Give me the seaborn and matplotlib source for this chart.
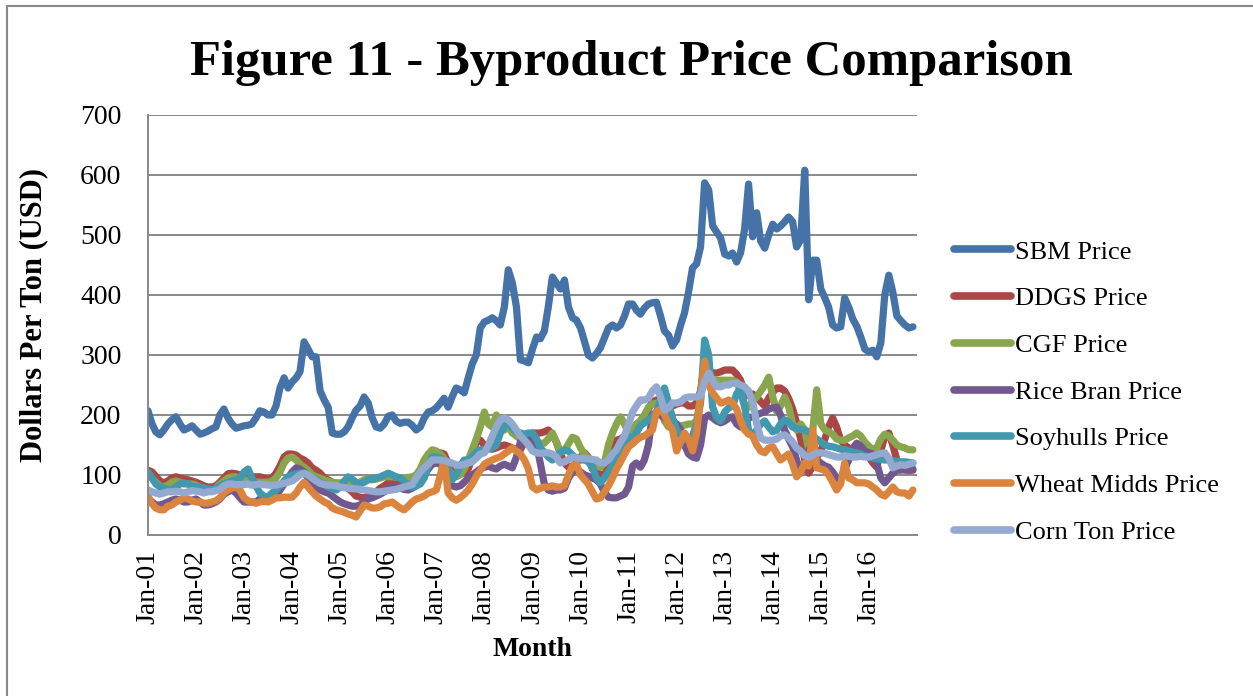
import matplotlib
matplotlib.use('Agg')
import matplotlib.pyplot as plt
from matplotlib.lines import Line2D
import pandas as pd
import seaborn as sns

# monthly prices, Jan-01 .. Dec-16 (one row per year)
sbm = [
    207, 185, 172, 167, 175, 185, 192, 197, 185, 175, 178, 182,
    175, 168, 170, 173, 177, 180, 200, 210, 195, 185, 178, 180,
    182, 183, 185, 195, 207, 205, 200, 200, 215, 245, 262, 245,
    255, 262, 272, 322, 310, 297, 297, 240, 225, 213, 170, 168,
    168, 172, 180, 195, 208, 215, 230, 220, 195, 180, 178, 185,
    198, 200, 190, 186, 188, 188, 183, 175, 180, 195, 205, 207,
    212, 220, 228, 213, 230, 245, 242, 237, 262, 285, 300, 345,
    355, 358, 362, 357, 350, 380, 442, 420, 380, 292, 290, 287,
    310, 330, 327, 340, 380, 430, 420, 410, 425, 380, 362, 358,
    345, 322, 300, 295, 302, 312, 328, 345, 350, 345, 350, 365,
    385, 385, 375, 368, 378, 385, 387, 388, 365, 340, 333, 315,
    325, 350, 370, 405, 445, 452, 480, 587, 575, 515, 505, 495,
    468, 465, 470, 455, 470, 510, 585, 497, 537, 490, 478, 500,
    518, 510, 515, 522, 530, 522, 480, 492, 608, 392, 458, 458,
    410, 395, 380, 350, 345, 347, 395, 380, 360, 348, 330, 310,
    305, 308, 297, 320, 400, 433, 405, 365, 357, 350, 345, 347]

ddgs = [
    108, 105, 98, 90, 87, 90, 95, 97, 95, 93, 92, 90,
    88, 85, 82, 80, 80, 82, 88, 95, 102, 103, 102, 100,
    100, 98, 97, 97, 97, 95, 93, 95, 103, 115, 130, 135,
    135, 133, 128, 125, 120, 112, 108, 103, 95, 92, 88, 85,
    82, 80, 78, 72, 65, 63, 62, 65, 68, 72, 78, 82,
    87, 87, 86, 87, 88, 90, 92, 98, 105, 115, 122, 130,
    132, 137, 135, 120, 105, 100, 102, 103, 110, 130, 155, 158,
    150, 145, 143, 145, 148, 150, 148, 145, 143, 142, 155, 165,
    170, 170, 170, 172, 175, 168, 155, 135, 120, 113, 115, 120,
    130, 137, 130, 110, 108, 100, 97, 120, 145, 158, 160, 165,
    168, 172, 180, 190, 197, 210, 222, 225, 218, 213, 213, 215,
    218, 220, 220, 215, 215, 220, 240, 287, 275, 270, 270, 272,
    275, 275, 275, 268, 258, 237, 232, 235, 230, 222, 215, 228,
    238, 245, 245, 240, 228, 210, 187, 160, 125, 103, 115, 130,
    140, 160, 180, 195, 180, 158, 150, 145, 143, 142, 140, 138,
    130, 120, 113, 140, 165, 170, 150, 125, 112, 108, 108, 108]

cgf = [
    100, 95, 88, 82, 80, 83, 88, 90, 88, 85, 85, 85,
    83, 80, 78, 76, 75, 78, 85, 90, 95, 97, 97, 95,
    92, 90, 90, 88, 88, 88, 88, 90, 95, 105, 120, 128,
    130, 125, 118, 113, 108, 100, 97, 95, 92, 90, 88, 87,
    87, 87, 87, 86, 85, 88, 92, 93, 92, 93, 95, 97,
    97, 97, 96, 95, 95, 96, 97, 100, 110, 125, 135, 142,
    140, 135, 128, 110, 100, 97, 100, 110, 125, 142, 160, 180,
    205, 185, 180, 200, 190, 175, 180, 170, 165, 160, 158, 158,
    157, 155, 153, 153, 160, 170, 155, 138, 140, 152, 163, 160,
    145, 135, 128, 120, 115, 113, 120, 150, 170, 185, 197, 185,
    170, 175, 185, 190, 200, 213, 218, 220, 210, 190, 180, 180,
    180, 182, 183, 185, 185, 190, 230, 300, 270, 255, 258, 258,
    258, 258, 258, 255, 240, 213, 213, 225, 230, 240, 250, 263,
    230, 205, 215, 230, 215, 185, 175, 185, 175, 142, 175, 242,
    185, 175, 172, 168, 160, 158, 158, 162, 165, 170, 165, 155,
    148, 142, 145, 160, 168, 165, 158, 150, 147, 145, 142, 142]

rice_bran = [
    60, 55, 50, 50, 52, 55, 58, 60, 58, 55, 55, 58,
    60, 55, 50, 50, 52, 55, 60, 68, 72, 75, 70, 62,
    55, 55, 55, 55, 60, 62, 60, 60, 65, 75, 85, 95,
    105, 112, 110, 105, 95, 85, 80, 75, 72, 70, 65, 60,
    55, 52, 50, 48, 48, 50, 55, 60, 62, 65, 68, 72,
    78, 80, 80, 78, 76, 75, 78, 82, 90, 100, 110, 118,
    120, 118, 110, 95, 82, 80, 82, 88, 95, 100, 105, 110,
    113, 115, 112, 110, 115, 118, 115, 112, 130, 155, 165, 165,
    162, 150, 120, 85, 75, 73, 75, 75, 78, 95, 105, 110,
    105, 100, 98, 95, 92, 85, 72, 63, 62, 62, 65, 68,
    80, 115, 120, 113, 125, 150, 200, 205, 200, 195, 192, 190,
    185, 175, 150, 135, 130, 128, 150, 195, 200, 195, 190, 187,
    190, 195, 197, 185, 180, 185, 195, 197, 200, 203, 205, 210,
    212, 213, 200, 175, 160, 147, 125, 103, 115, 142, 130, 125,
    120, 115, 113, 105, 95, 92, 110, 125, 145, 153, 148, 140,
    137, 135, 120, 95, 87, 95, 103, 108, 108, 110, 108, 110]

soyhulls = [
    105, 95, 85, 80, 78, 76, 75, 80, 85, 87, 85, 82,
    80, 80, 78, 77, 76, 78, 82, 85, 87, 90, 92, 95,
    105, 110, 95, 82, 70, 65, 63, 70, 75, 82, 90, 97,
    100, 102, 103, 103, 100, 95, 92, 87, 85, 80, 77, 75,
    80, 90, 97, 93, 88, 85, 88, 92, 93, 95, 97, 100,
    103, 100, 97, 95, 90, 82, 80, 82, 85, 95, 115, 130,
    130, 128, 125, 110, 92, 100, 115, 125, 125, 130, 138, 142,
    142, 143, 145, 150, 170, 180, 187, 178, 172, 170, 168, 170,
    170, 160, 145, 138, 130, 125, 130, 138, 142, 140, 133, 128,
    125, 125, 122, 113, 95, 87, 95, 105, 115, 125, 135, 147,
    165, 158, 170, 182, 187, 192, 197, 205, 225, 245, 220, 195,
    175, 165, 160, 158, 165, 185, 220, 325, 300, 213, 195, 190,
    205, 212, 215, 235, 245, 215, 175, 165, 175, 185, 190, 180,
    172, 175, 185, 192, 188, 180, 178, 176, 175, 172, 165, 160,
    155, 150, 148, 147, 145, 143, 142, 140, 138, 137, 135, 132,
    130, 128, 127, 126, 125, 125, 124, 123, 122, 122, 121, 120]

wheat_midds = [
    65, 52, 45, 42, 42, 48, 50, 55, 58, 62, 60, 57,
    55, 55, 53, 53, 55, 57, 62, 70, 75, 78, 80, 75,
    62, 57, 55, 53, 55, 56, 55, 58, 62, 62, 63, 63,
    63, 70, 80, 88, 80, 72, 65, 60, 55, 52, 45, 42,
    40, 38, 35, 33, 30, 40, 50, 48, 45, 45, 47, 52,
    53, 55, 50, 45, 42, 48, 55, 60, 62, 65, 70, 72,
    75, 100, 125, 70, 62, 58, 62, 68, 75, 85, 98, 108,
    118, 122, 125, 128, 130, 135, 140, 145, 140, 135, 125, 110,
    80, 75, 78, 80, 80, 82, 80, 80, 82, 100, 115, 118,
    100, 92, 85, 72, 60, 62, 72, 82, 95, 110, 122, 135,
    147, 152, 158, 163, 165, 170, 175, 205, 210, 200, 185, 175,
    140, 155, 170, 160, 140, 170, 230, 290, 250, 237, 228, 220,
    222, 225, 220, 210, 190, 175, 168, 165, 150, 140, 137, 145,
    147, 135, 125, 130, 135, 118, 97, 105, 120, 115, 175, 112,
    110, 108, 100, 88, 75, 85, 120, 95, 92, 87, 87, 87,
    85, 80, 75, 68, 65, 72, 80, 72, 70, 70, 65, 75]

corn_ton = [
    75, 72, 70, 68, 70, 72, 72, 73, 72, 70, 72, 74,
    73, 72, 70, 72, 72, 74, 76, 82, 85, 85, 84, 84,
    84, 85, 83, 84, 85, 84, 83, 83, 83, 85, 86, 88,
    90, 95, 100, 103, 100, 95, 90, 86, 84, 83, 83, 82,
    80, 79, 78, 77, 77, 76, 75, 74, 73, 72, 72, 73,
    74, 75, 76, 78, 80, 82, 84, 95, 105, 112, 118, 125,
    125, 125, 124, 122, 120, 117, 116, 118, 120, 122, 128, 135,
    137, 150, 165, 180, 192, 195, 192, 185, 175, 165, 158, 150,
    140, 137, 136, 137, 137, 135, 130, 120, 122, 126, 130, 128,
    128, 127, 127, 126, 125, 120, 120, 125, 135, 142, 155, 165,
    185, 205, 215, 225, 225, 228, 240, 247, 230, 208, 212, 220,
    220, 222, 228, 230, 230, 230, 232, 255, 270, 258, 247, 247,
    250, 250, 253, 253, 250, 247, 240, 222, 185, 162, 158, 158,
    158, 160, 165, 167, 162, 155, 145, 140, 132, 130, 133, 137,
    137, 136, 134, 132, 130, 130, 132, 131, 130, 130, 131, 130,
    130, 132, 134, 136, 137, 128, 112, 115, 117, 116, 118, 120]

series_names = ['SBM Price', 'DDGS Price', 'CGF Price', 'Rice Bran Price',
                'Soyhulls Price', 'Wheat Midds Price', 'Corn Ton Price']
colors = ['#4572a7', '#aa4643', '#89a54e', '#71588f', '#4198af', '#db843d', '#93a9cf']
tick_labels = ['Jan-01', 'Jan-02', 'Jan-03', 'Jan-04', 'Jan-05', 'Jan-06', 'Jan-07', 'Jan-08',
               'Jan-09', 'Jan-10', 'Jan-11', 'Jan-12', 'Jan-13', 'Jan-14', 'Jan-15', 'Jan-16', '']

months = pd.date_range('2001-01-01', periods=len(sbm), freq='MS')
wide = pd.DataFrame({'Month': months,
                     'SBM Price': sbm, 'DDGS Price': ddgs, 'CGF Price': cgf,
                     'Rice Bran Price': rice_bran, 'Soyhulls Price': soyhulls,
                     'Wheat Midds Price': wheat_midds, 'Corn Ton Price': corn_ton})
df = wide.melt(id_vars='Month', var_name='Series', value_name='Price')

sns.set_style('white')
plt.rcParams['font.family'] = ['Liberation Serif', 'DejaVu Serif']
plt.rcParams['text.color'] = 'black'
plt.rcParams['axes.labelcolor'] = 'black'

grey = '#898989'
W, H = 1253, 696
fig = plt.figure(figsize=(W / 100, H / 100), dpi=100)
ax = fig.add_axes([148 / W, 1 - 535 / H, (917 - 148) / W, 420 / H])

sns.lineplot(data=df, x='Month', y='Price', hue='Series', hue_order=series_names,
             palette=colors, linewidth=5.2, ax=ax, legend=False)
for ln in ax.lines:
    ln.set_solid_capstyle('round')
    ln.set_solid_joinstyle('round')

ax.set_ylim(0, 700)
ax.set_yticks(range(0, 701, 100))
year_ticks = pd.date_range('2001-01-01', '2017-01-01', freq='YS')
ax.set_xlim(year_ticks[0], year_ticks[-1])
ax.set_xticks(year_ticks)
ax.set_xticklabels(tick_labels, rotation=90)

ax.yaxis.grid(True, color=grey, linewidth=1.4)
ax.xaxis.grid(False)
ax.set_axisbelow(True)
for side in ['top', 'right']:
    ax.spines[side].set_visible(False)
for side in ['left', 'bottom']:
    ax.spines[side].set_color(grey)
    ax.spines[side].set_linewidth(1.4)

ax.tick_params(axis='y', direction='out', length=7, width=1.4, color=grey,
               pad=12, labelsize=20, labelcolor='black')
ax.tick_params(axis='x', direction='out', length=7, width=1.4, color=grey,
               pad=4, labelsize=20, labelcolor='black')

ax.set_xlabel('Month', fontsize=20, fontweight='bold', labelpad=9)
ax.set_ylabel('Dollars Per Ton (USD)', fontsize=22, fontweight='bold')
ax.yaxis.label.set_va('center')
ax.yaxis.set_label_coords(-0.149, 0.524)

fig.text(631 / W, 1 - 75 / H, 'Figure 11 - Byproduct Price Comparison',
         ha='center', va='baseline', fontsize=36.5, fontweight='bold', color='black')

handles = [Line2D([], [], color=c, linewidth=5.5, solid_capstyle='round') for c in colors]
fig.legend(handles, series_names, loc='center left', bbox_to_anchor=(954 / W, 1 - 392 / H),
           frameon=False, fontsize=19, handlelength=2.15, handletextpad=0.15,
           labelspacing=0.88, borderpad=0, borderaxespad=0)

# chart area border (only the top and left edges are in the picture)
fig.add_artist(Line2D([7 / W, 7 / W], [0, 1 - 6 / H], transform=fig.transFigure,
                      color=grey, linewidth=1.5))
fig.add_artist(Line2D([7 / W, 1], [1 - 6 / H, 1 - 6 / H], transform=fig.transFigure,
                      color=grey, linewidth=1.5))

fig.savefig('out.png', dpi=100)
